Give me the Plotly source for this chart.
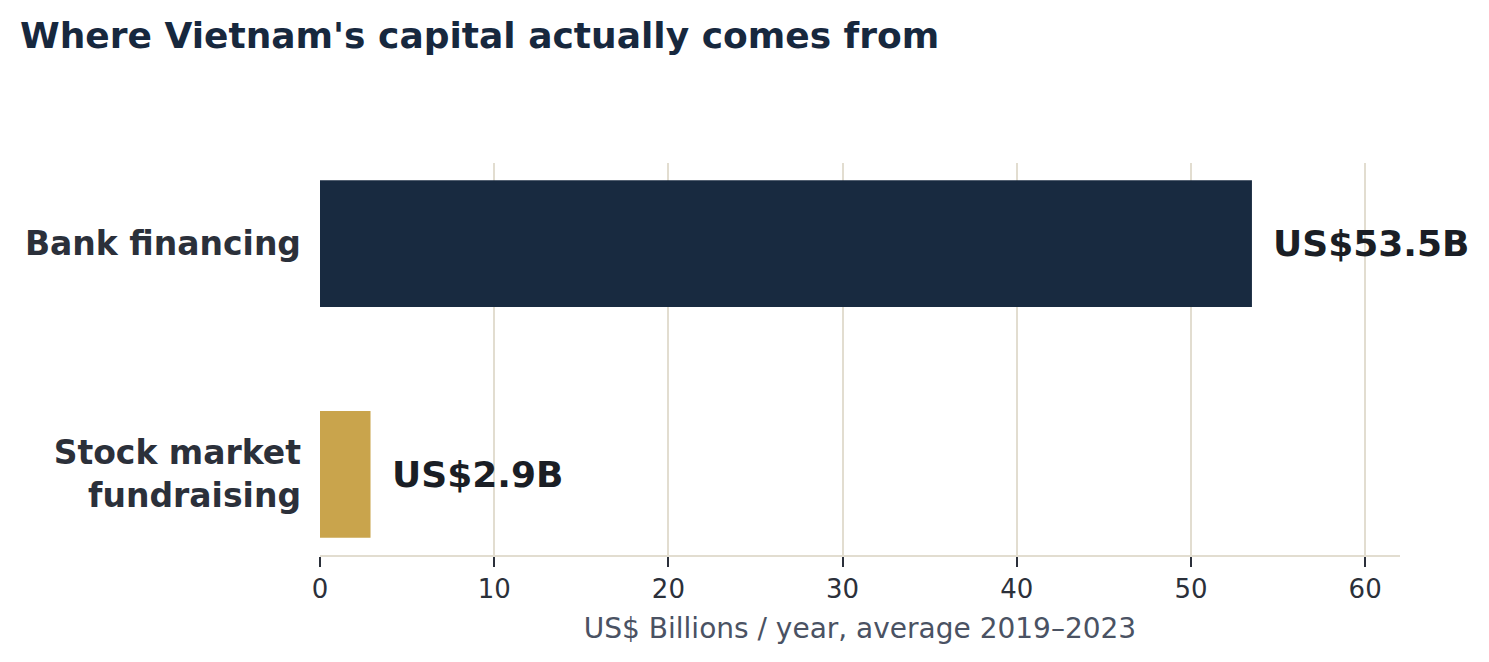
import plotly.graph_objects as go

# data
categories = ["Stock market<br>fundraising", "Bank financing"]
values = [2.9, 53.5]
value_labels = ["US$2.9B", "US$53.5B"]
bar_colors = ["#c9a44c", "#182a40"]
x_ticks = [0, 10, 20, 30, 40, 50, 60]

FONT = "DejaVu Sans"
W, H = 1473, 646  # page body keeps an 8px margin

fig = go.Figure()

fig.add_trace(go.Bar(
    x=values,
    y=categories,
    orientation="h",
    marker=dict(color=bar_colors, line=dict(width=0)),
    width=0.55,
    hoverinfo="skip",
))

# value labels to the right of each bar
for v, c, t in zip(values, categories, value_labels):
    fig.add_annotation(
        x=v, y=c, text="<b>%s</b>" % t,
        showarrow=False, xanchor="left", yanchor="middle",
        xshift=19, font=dict(family=FONT, size=36, color="#1a1e25"),
    )

fig.update_layout(
    width=W, height=H,
    margin=dict(l=312, r=81, t=155, b=99),
    paper_bgcolor="white", plot_bgcolor="white",
    showlegend=False,
    title=dict(
        text="<b>Where Vietnam's capital actually comes from</b>",
        x=12 / W, xref="container", xanchor="left",
        y=1 - 27 / H, yref="container", yanchor="middle",
        font=dict(family=FONT, size=36, color="#17283e"),
    ),
    font=dict(family=FONT, color="#2b303a"),
)

fig.update_xaxes(
    range=[0, 62],
    tickvals=x_ticks,
    showgrid=True, gridcolor="#e2ddd0", gridwidth=2,
    zeroline=False,
    showline=True, linecolor="#e2ddd0", linewidth=2,
    ticks="outside", ticklen=10, tickwidth=2, tickcolor="#2b303a",
    tickfont=dict(family=FONT, size=26, color="#2b303a"),
    title=dict(text="US$ Billions / year, average 2019–2023",
               font=dict(family=FONT, size=28, color="#4a5263"),
               standoff=15),
)

fig.update_yaxes(
    categoryorder="array", categoryarray=categories,
    range=[-0.35, 1.35],
    showgrid=False, zeroline=False, showline=False,
    ticks="", ticklabelstandoff=18,
    tickfont=dict(family=FONT, size=33, color="#2b303a", weight="bold"),
)

fig.write_html("out.html")
